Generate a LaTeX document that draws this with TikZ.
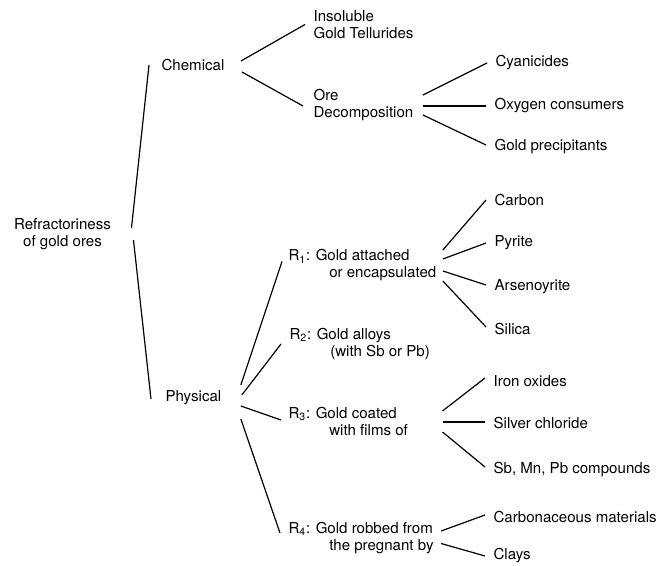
\documentclass[tikz,border=0pt]{standalone}
\usepackage{fontspec}
\setmainfont{TeX Gyre Heros}
\usepackage{tikz}
\usetikzlibrary{calc}

\newcommand{\subline}{\hspace*{2.7em}}

\begin{document}
\begin{tikzpicture}[
    x=0.75pt, y=-0.75pt,
    line width=0.9pt,
    term/.style={anchor=west, align=left, inner xsep=6pt, inner ysep=1pt,
        font=\fontsize{11.3}{12.75}\selectfont},
    rootterm/.style={term, anchor=center, align=center}
]
\useasboundingbox (0,0) rectangle (656,566);

% Root
\node[rootterm] (root) at (62.5,234.5) {Refractoriness\\of gold ores};

% Main classes
\node[term] (chem) at (153,65) {Chemical};
\node[term] (phys) at (157,398) {Physical};

% Chemical branch
\node[term] (insol) at (305,24.5) {Insoluble\\Gold Tellurides};
\node[term] (orede) at (305,105) {Ore\\Decomposition};
\node[term] (cyan)  at (487,63)  {Cyanicides};
\node[term] (oxy)   at (486,106) {Oxygen consumers};
\node[term] (gprec) at (486,147) {Gold precipitants};

% Physical branch
\node[term] (r1) at (280,265.5) {R\textsubscript{1}: Gold attached\\\subline or encapsulated};
\node[term] (r2) at (281,344)   {R\textsubscript{2}: Gold alloys\\\subline (with Sb or Pb)};
\node[term] (r3) at (280,421.5) {R\textsubscript{3}: Gold coated\\\subline with films of};
\node[term] (r4) at (280,538)   {R\textsubscript{4}: Gold robbed from\\\subline the pregnant by};

\node[term] (carbon) at (486,200) {Carbon};
\node[term] (pyrite) at (486,243) {Pyrite};
\node[term] (arseno) at (486,287) {Arsenoyrite};
\node[term] (silica) at (486,329) {Silica};

\node[term] (iron)   at (485,381) {Iron oxides};
\node[term] (silver) at (485,423) {Silver chloride};
\node[term] (sbmn)   at (485,470) {Sb, Mn, Pb compounds};

\node[term] (carbm) at (485,517) {Carbonaceous materials};
\node[term] (clays) at (485,556) {Clays};

% Root links
\draw ($(root.east)+(12,-6.5)$) -- ($(chem.west)+(-4,0)$);
\draw ($(root.east)+(14,5.5)$) -- ($(phys.west)+(-6,1)$);

% Chemical links
\draw ($(chem.east)+(8,-4)$) -- (insol.west);
\draw ($(chem.east)+(9,7)$) -- ($(orede.west)+(-2,1)$);
\draw ($(orede.east)+(1,-10)$) -- (cyan.west);
\draw ($(orede.east)+(1,1)$) -- (oxy.west);
\draw ($(orede.east)+(1,10)$) -- ($(gprec.west)+(0,-2)$);

% Physical links
\draw ($(phys.east)+(11,-13)$) -- ($(r1.west)+(2,-4)$);
\draw ($(phys.east)+(12,-3)$) -- (r2.west);
\draw ($(phys.east)+(11,8)$) -- ($(r3.west)+(1,-1.5)$);
\draw ($(phys.east)+(11,21)$) -- ($(r4.west)+(0,-5)$);

% R1 links
\draw ($(r1.east)+(-2,-15.5)$) -- (carbon.west);
\draw ($(r1.east)+(-2,-6.5)$) -- (pyrite.west);
\draw ($(r1.east)+(-2,5.5)$) -- ($(arseno.west)+(0,-2)$);
\draw ($(r1.east)+(-2,15.5)$) -- ($(silica.west)+(0,-2)$);

% R3 links
\draw ($(r3.east)+(26,-10.5)$) -- ($(iron.west)+(0,-3)$);
\draw ($(r3.east)+(26,0.5)$) -- ($(silver.west)+(0,-1)$);
\draw ($(r3.east)+(26,10.5)$) -- ($(sbmn.west)+(0,-3)$);

% R4 links
\draw ($(r4.east)+(-1,-7)$) -- ($(carbm.west)+(0,-2)$);
\draw ($(r4.east)+(-1,5.5)$) -- (clays.west);

\end{tikzpicture}
\end{document}
